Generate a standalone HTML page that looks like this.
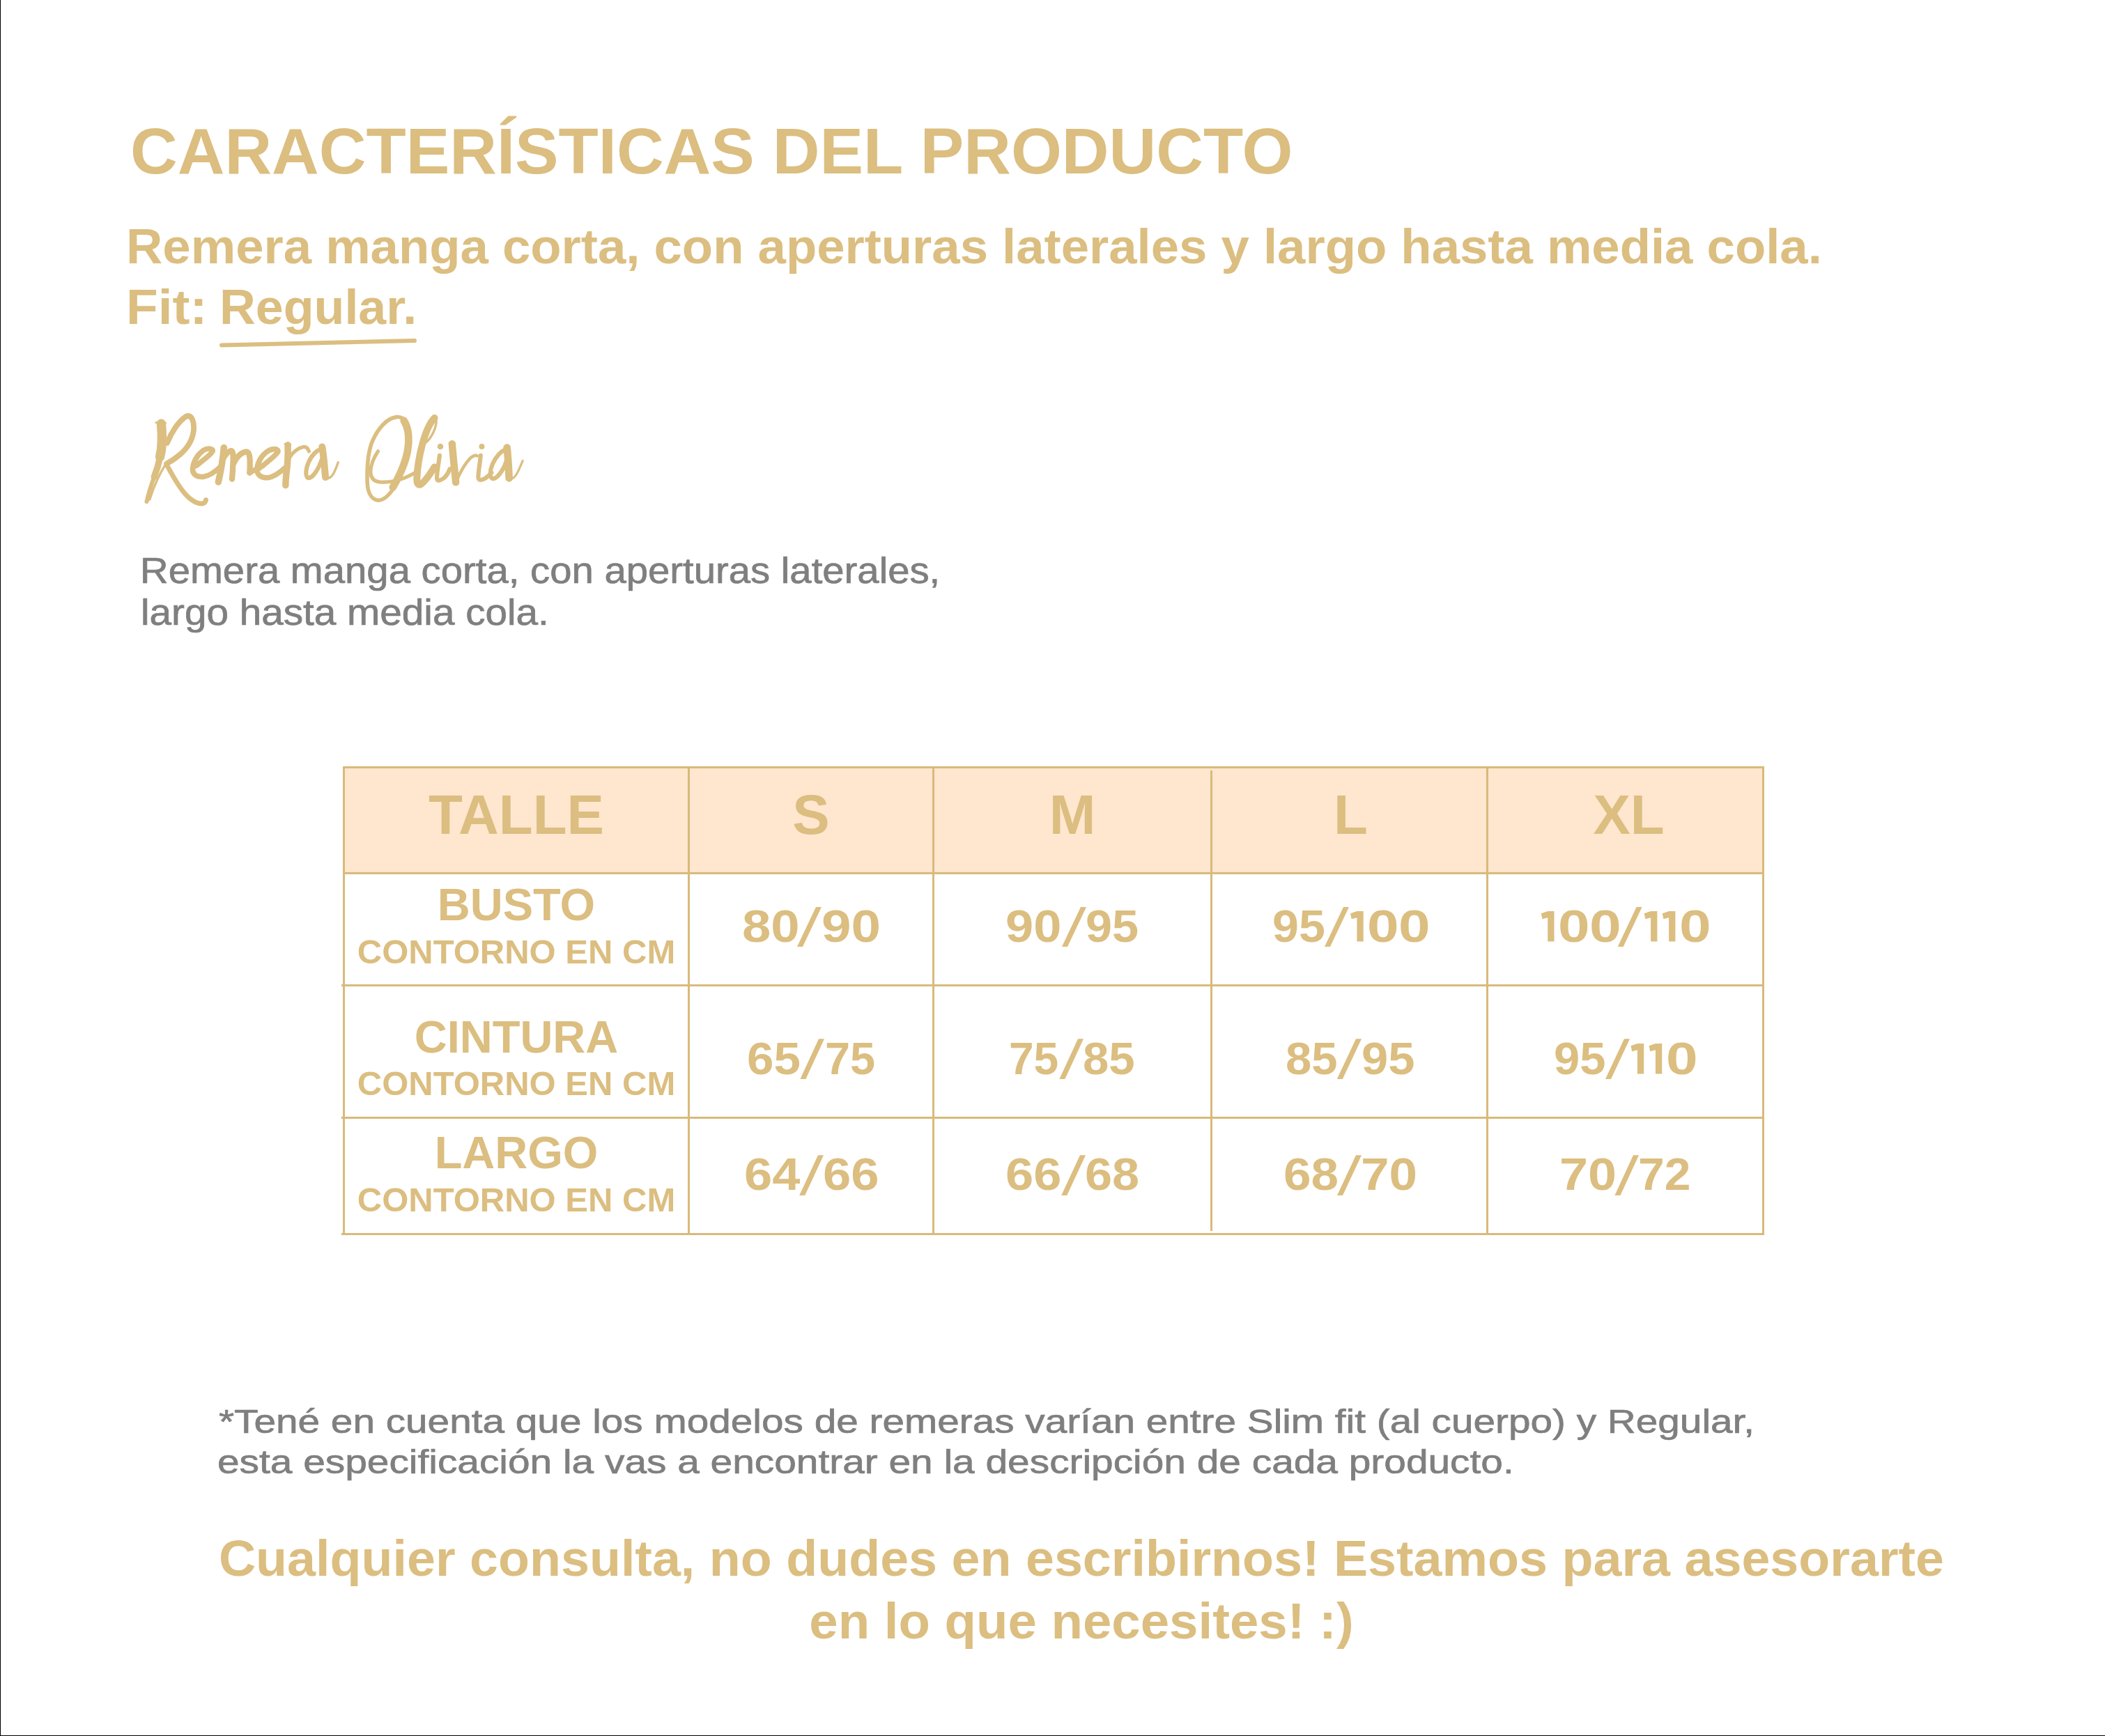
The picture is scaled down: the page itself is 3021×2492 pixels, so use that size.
<!DOCTYPE html>
<html lang="es">
<head>
<meta charset="utf-8">
<title>Características del producto</title>
<style>
  html, body { margin: 0; padding: 0; }
  body { width: 3021px; height: 2492px; position: relative; overflow: hidden; background: #fff;
         font-family: "Liberation Sans", sans-serif; }
  .frame-l { position: absolute; left: 0; top: 0; width: 1px; height: 2492px; background: #000; }
  .frame-b { position: absolute; left: 0; top: 2491px; width: 3021px; height: 1px; background: #000; }
  .t { position: absolute; white-space: nowrap; line-height: 1; transform-origin: 0 0; }
  .gold { color: #dbbe80; }
  .grey { color: #7f7f7f; -webkit-text-stroke: 0.7px #7f7f7f; }
  .b { font-weight: 700; }
  .c { text-align: center; transform-origin: 50% 0; }
  .ln { position: absolute; background: #d8ba7b; }
</style>
</head>
<body>
<div class="frame-l"></div>
<div class="frame-b"></div>

<!-- Heading -->
<div class="t gold b" id="t1" style="left:187px; top:171px; font-size:92px; transform:scaleX(1.019);">CARACTERÍSTICAS DEL PRODUCTO</div>
<div class="t gold b" id="t2" style="left:181px; top:319px; font-size:70px; transform:scaleX(1.0357);">Remera manga corta, con aperturas laterales y largo hasta media cola.</div>
<div class="t gold b" id="t3" style="left:181px; top:406px; font-size:70px; transform:scaleX(1.069);">Fit:</div>
<div class="t gold b" id="t4" style="left:315px; top:406px; font-size:70px; transform:scaleX(1.025);">Regular.</div>
<svg style="position:absolute; left:0; top:0;" width="3021" height="2492" viewBox="0 0 3021 2492">
  <path d="M318 495.5 L595 489" stroke="#dbbe80" stroke-width="6" stroke-linecap="round" fill="none"/>
</svg>

<!-- Script title -->
<svg style="position:absolute; left:200px; top:580px;" width="580" height="160" viewBox="0 0 4361 1203">
 <g fill="none" stroke="#dbbe80" stroke-linecap="round" stroke-linejoin="round">
  <!-- R -->
  <path d="M178 200 L282 204" stroke-width="22"/>
  <path d="M222 575 C 210 640, 190 710, 160 785" stroke-width="70"/>
  <path d="M162 780 C 130 870, 100 960, 80 1052" stroke-width="46"/>
  <path d="M236 212 C 246 320, 248 470, 222 570" stroke-width="100"/>
  <path d="M112 1030 C 150 910, 200 780, 290 638" stroke-width="24"/>
  <path d="M300 420 C 340 320, 420 180, 515 128 C 570 120, 595 200, 585 290 C 570 420, 480 540, 300 640" stroke-width="59"/>
  <path d="M290 645 C 330 720, 400 850, 470 940 C 540 1030, 620 1080, 680 1075 C 700 1070, 715 1055, 718 1035" stroke-width="52"/>
  <!-- e1 -->
  <path d="M615 665 C 680 610, 760 560, 790 510 C 800 480, 740 470, 690 500 C 620 550, 580 630, 575 700 C 572 760, 620 790, 690 785 C 760 775, 830 720, 880 672" stroke-width="57"/>
  <!-- m -->
  <path d="M885 465 L938 462" stroke-width="18"/>
  <path d="M912 470 C 905 560, 880 720, 852 842" stroke-width="71"/>
  <path d="M892 610 C 920 560, 960 505, 992 505 C 1020 510, 1012 600, 1010 650 C 1008 720, 1004 770, 1000 810" stroke-width="62"/>
  <path d="M1012 650 C 1040 590, 1090 525, 1150 515 C 1185 515, 1192 560, 1193 620 C 1194 680, 1192 720, 1190 742" stroke-width="62"/>
  <!-- e2 -->
  <path d="M1190 742 C 1230 720, 1260 700, 1300 690 M1330 668 C 1390 615, 1470 560, 1495 515 C 1505 485, 1450 475, 1400 500 C 1320 545, 1275 630, 1270 700 C 1268 770, 1320 800, 1390 795 C 1460 785, 1520 735, 1570 690" stroke-width="57"/>
  <!-- r -->
  <path d="M1570 432 L1632 440" stroke-width="20"/>
  <path d="M1602 442 C 1605 540, 1600 660, 1585 760 C 1580 810, 1578 850, 1578 878" stroke-width="71"/>
  <path d="M1600 610 C 1640 540, 1700 475, 1770 462 C 1800 460, 1820 480, 1830 510" stroke-width="39"/>
  <!-- a -->
  <path d="M1968 490 C 1920 490, 1860 550, 1825 630 C 1795 700, 1790 770, 1815 795 C 1850 810, 1900 750, 1940 670 C 1965 610, 1985 560, 1992 520" stroke-width="46"/>
  <path d="M1972 462 C 1990 560, 1998 680, 2008 790" stroke-width="75"/>
  <path d="M2008 795 C 2040 815, 2075 790, 2100 740 C 2120 700, 2135 660, 2145 630" stroke-width="26"/>
 </g>
 <g transform="translate(2255,0)" fill="none" stroke="#dbbe80" stroke-linecap="round" stroke-linejoin="round">
  <!-- O -->
  <path d="M520 140 C 420 150, 320 260, 260 400 C 210 520, 200 700, 205 850 C 210 960, 250 1030, 320 1040 C 400 1040, 470 950, 530 840 C 590 720, 640 560, 658 420 C 670 300, 645 190, 590 155 C 560 138, 530 138, 520 140" stroke-width="42"/>
  <path d="M600 180 C 650 260, 660 380, 640 500 C 620 620, 560 760, 480 900" stroke-width="80"/>
  <path d="M320 510 C 280 570, 245 640, 240 720 C 238 790, 270 835, 340 842 C 420 848, 520 830, 600 800 C 650 780, 690 760, 720 740" stroke-width="39"/>
  <!-- l -->
  <path d="M930 150 C 880 200, 830 320, 800 430 C 770 540, 745 680, 740 800 C 738 850, 750 875, 775 870 C 820 850, 880 760, 930 680" stroke-width="75"/>
  <path d="M935 150 C 960 170, 950 240, 915 310 C 890 360, 860 400, 830 420" stroke-width="26"/>
  <!-- i1 -->
  <circle cx="993" cy="458" r="32" fill="#dbbe80" stroke="none"/>
  <path d="M985 555 C 975 640, 955 740, 955 800 C 958 835, 990 830, 1030 800 C 1060 775, 1080 740, 1095 700" stroke-width="46"/>
  <!-- v -->
  <path d="M1090 420 L1150 432" stroke-width="20"/>
  <path d="M1120 430 C 1130 560, 1145 700, 1160 845" stroke-width="78"/>
  <path d="M1160 845 C 1200 750, 1260 640, 1320 580 C 1350 555, 1380 550, 1390 560" stroke-width="34"/>
  <!-- i2 -->
  <circle cx="1440" cy="458" r="30" fill="#dbbe80" stroke="none"/>
  <path d="M1428 555 C 1420 640, 1402 730, 1402 790 C 1405 830, 1440 825, 1480 800 C 1510 780, 1530 760, 1545 740" stroke-width="46"/>
  <!-- a -->
  <path d="M1705 490 C 1650 500, 1590 570, 1555 650 C 1525 720, 1525 790, 1555 805 C 1590 810, 1640 760, 1680 680 C 1705 620, 1720 570, 1728 530" stroke-width="46"/>
  <path d="M1712 470 C 1725 580, 1730 700, 1735 800" stroke-width="80"/>
  <path d="M1735 805 C 1770 820, 1800 790, 1830 730 C 1855 680, 1870 640, 1882 612" stroke-width="24"/>
 </g>
</svg>


<!-- Grey description -->
<div class="t grey" id="g1" style="left:201px; top:794px; font-size:51px; transform:scaleX(1.1037);">Remera manga corta, con aperturas laterales,</div>
<div class="t grey" id="g2" style="left:202px; top:854px; font-size:51px; transform:scaleX(1.111);">largo hasta media cola.</div>

<!-- Table -->
<div style="position:absolute; left:495px; top:1103px; width:2034px; height:149px; background:#fee6cf;"></div>
<div class="ln" style="left:492px; top:1100px; width:2040px; height:3px;"></div>
<div class="ln" style="left:492px; top:1252px; width:2040px; height:3px;"></div>
<div class="ln" style="left:490px; top:1413px; width:2042px; height:3px;"></div>
<div class="ln" style="left:490px; top:1603px; width:2042px; height:3px;"></div>
<div class="ln" style="left:490px; top:1770px; width:2042px; height:3px;"></div>
<div class="ln" style="left:492px; top:1100px; width:3px; height:673px;"></div>
<div class="ln" style="left:987px; top:1100px; width:3px; height:673px;"></div>
<div class="ln" style="left:1338px; top:1100px; width:3px; height:673px;"></div>
<div class="ln" style="left:1737px; top:1106px; width:3px; height:661px;"></div>
<div class="ln" style="left:2133px; top:1100px; width:3px; height:673px;"></div>
<div class="ln" style="left:2529px; top:1100px; width:3px; height:673px;"></div>

<!-- header row -->
<div class="t gold b c" style="left:495px; width:492px; top:1130px; font-size:80px;">TALLE</div>
<div class="t gold b c" style="left:990px; width:348px; top:1130px; font-size:80px;">S</div>
<div class="t gold b c" style="left:1341px; width:396px; top:1130px; font-size:80px;">M</div>
<div class="t gold b c" style="left:1742px; width:393px; top:1130px; font-size:80px;">L</div>
<div class="t gold b c" style="left:2141px; width:393px; top:1130px; font-size:80px;">XL</div>

<!-- row labels -->
<div class="t gold b c" style="left:495px; width:492px; top:1266px; font-size:65px;">BUSTO</div>
<div class="t gold b c" style="left:495px; width:492px; top:1342px; font-size:49px;">CONTORNO EN CM</div>
<div class="t gold b c" style="left:495px; width:492px; top:1456px; font-size:65px;">CINTURA</div>
<div class="t gold b c" style="left:495px; width:492px; top:1531px; font-size:49px;">CONTORNO EN CM</div>
<div class="t gold b c" style="left:495px; width:492px; top:1622px; font-size:65px;">LARGO</div>
<div class="t gold b c" style="left:495px; width:492px; top:1698px; font-size:49px;">CONTORNO EN CM</div>

<!-- values -->
<div class="t gold b" style="left:1064.7px; top:1297px; font-size:65px; transform:scaleX(1.1426);">80</div>
<div class="t gold b" style="left:1178.6px; top:1297px; font-size:65px; transform:scaleX(1.1765);">90</div>
<div class="t gold b" style="left:1443.2px; top:1297px; font-size:65px; transform:scaleX(1.1118);">90</div>
<div class="t gold b" style="left:1558.2px; top:1297px; font-size:65px; transform:scaleX(1.0536);">95</div>
<div class="t gold b" style="left:1825.5px; top:1297px; font-size:65px; transform:scaleX(1.0493);">95</div>
<div class="t gold b" style="left:1962.0px; top:1297px; font-size:65px; transform:scaleX(1.2616);">0</div>
<div class="t gold b" style="left:2007.0px; top:1297px; font-size:65px; transform:scaleX(1.2616);">0</div>
<div class="t gold b" style="left:2235.8px; top:1297px; font-size:65px; transform:scaleX(1.2616);">0</div>
<div class="t gold b" style="left:2280.8px; top:1297px; font-size:65px; transform:scaleX(1.2616);">0</div>
<div class="t gold b" style="left:2409.7px; top:1297px; font-size:65px; transform:scaleX(1.2616);">0</div>

<div class="t gold b" style="left:1071.6px; top:1487px; font-size:65px; transform:scaleX(1.0623);">65</div>
<div class="t gold b" style="left:1183.9px; top:1487px; font-size:65px; transform:scaleX(0.9971);">75</div>
<div class="t gold b" style="left:1447.5px; top:1487px; font-size:65px; transform:scaleX(0.9853);">75</div>
<div class="t gold b" style="left:1553.9px; top:1487px; font-size:65px; transform:scaleX(1.0333);">85</div>
<div class="t gold b" style="left:1844.7px; top:1487px; font-size:65px; transform:scaleX(1.0319);">85</div>
<div class="t gold b" style="left:1953.5px; top:1487px; font-size:65px; transform:scaleX(1.0580);">95</div>
<div class="t gold b" style="left:2229.9px; top:1487px; font-size:65px; transform:scaleX(1.0290);">95</div>
<div class="t gold b" style="left:2390.5px; top:1487px; font-size:65px; transform:scaleX(1.2616);">0</div>

<div class="t gold b" style="left:1067.8px; top:1653px; font-size:65px; transform:scaleX(1.1114);">64</div>
<div class="t gold b" style="left:1180.8px; top:1653px; font-size:65px; transform:scaleX(1.1132);">66</div>
<div class="t gold b" style="left:1443.2px; top:1653px; font-size:65px; transform:scaleX(1.1118);">66</div>
<div class="t gold b" style="left:1556.7px; top:1653px; font-size:65px; transform:scaleX(1.0809);">68</div>
<div class="t gold b" style="left:1841.5px; top:1653px; font-size:65px; transform:scaleX(1.0926);">68</div>
<div class="t gold b" style="left:1953.4px; top:1653px; font-size:65px; transform:scaleX(1.1224);">70</div>
<div class="t gold b" style="left:2237.6px; top:1653px; font-size:65px; transform:scaleX(1.1343);">70</div>
<div class="t gold b" style="left:2350.5px; top:1653px; font-size:65px; transform:scaleX(1.0433);">72</div>

<svg style="position:absolute; left:0; top:0;" width="3021" height="2492" viewBox="0 0 3021 2492"><g fill="#dbbe80">
<polygon points="1171.0,1302 1179.0,1302 1152.0,1359 1144.0,1359"/>
<polygon points="1551.0,1302 1559.0,1302 1532.0,1359 1524.0,1359"/>
<path d="M1947.4 1308 h9.3 v43.5 h-9.3 V1317.2 L1939.7 1319.3 L1938.0 1311.2 Z"/>
<polygon points="1928.0,1302 1936.0,1302 1909.0,1359 1901.0,1359"/>
<path d="M2221.2 1308 h9.3 v43.5 h-9.3 V1317.2 L2213.5 1319.3 L2211.8 1311.2 Z"/>
<path d="M2369.1 1308 h9.3 v43.5 h-9.3 V1317.2 L2361.4 1319.3 L2359.7 1311.2 Z"/>
<path d="M2395.1 1308 h9.3 v43.5 h-9.3 V1317.2 L2387.4 1319.3 L2385.7 1311.2 Z"/>
<polygon points="2348.6,1302 2356.6,1302 2329.7,1359 2321.7,1359"/>
<polygon points="1175.0,1491.3 1183.0,1491.3 1156.4,1549 1148.4,1549"/>
<polygon points="1547.0,1491.3 1555.0,1491.3 1528.4,1549 1520.4,1549"/>
<polygon points="1946.0,1491.3 1954.0,1491.3 1926.8,1549 1918.8,1549"/>
<path d="M2349.9 1498 h9.3 v43.5 h-9.3 V1507.2 L2342.2 1509.3 L2340.5 1501.2 Z"/>
<path d="M2375.9 1498 h9.3 v43.5 h-9.3 V1507.2 L2368.2 1509.3 L2366.5 1501.2 Z"/>
<polygon points="2331.0,1491.3 2339.0,1491.3 2312.0,1549 2304.0,1549"/>
<polygon points="1174.0,1658.3 1182.0,1658.3 1155.2,1716 1147.2,1716"/>
<polygon points="1550.0,1658.3 1558.0,1658.3 1531.2,1716 1523.2,1716"/>
<polygon points="1946.0,1658.3 1954.0,1658.3 1927.0,1716 1919.0,1716"/>
<polygon points="2344.0,1658.3 2352.0,1658.3 2325.4,1716 2317.4,1716"/>
</g></svg>

<!-- footnote -->
<div class="t grey" id="f1" style="left:314px; top:2016px; font-size:49px; transform:scaleX(1.1577);">*Tené en cuenta que los modelos de remeras varían entre Slim fit (al cuerpo) y Regular,</div>
<div class="t grey" id="f2" style="left:312px; top:2074px; font-size:49px; transform:scaleX(1.1598);">esta especificación la vas a encontrar en la descripción de cada producto.</div>

<!-- closing -->
<div class="t gold b c" id="z1" style="left:0; width:3104px; top:2201px; font-size:72px; transform:scaleX(1.0229);">Cualquier consulta, no dudes en escribirnos! Estamos para asesorarte</div>
<div class="t gold b c" id="z2" style="left:0; width:3104px; top:2291px; font-size:72px; transform:scaleX(1.0333);">en lo que necesites! :)</div>

</body>
</html>
